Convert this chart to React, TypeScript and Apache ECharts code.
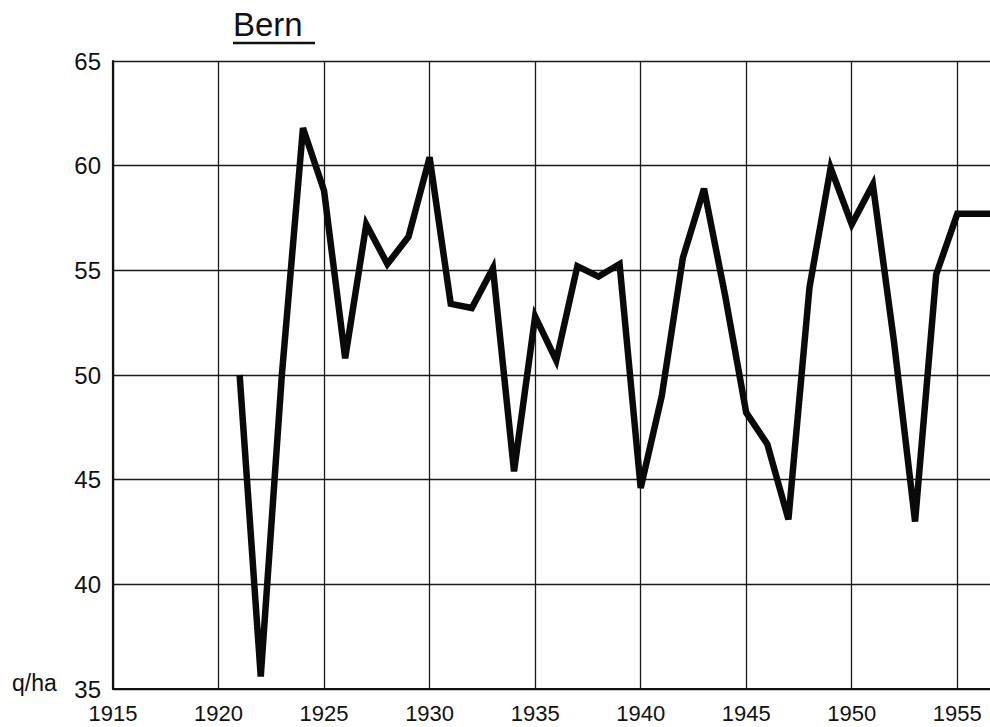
import React, { useEffect, useRef } from "react";
import * as echarts from "echarts";

const title = "Bern";
const unitLabel = "q/ha";
const years = [
  1921, 1922, 1923, 1924, 1925, 1926, 1927, 1928, 1929, 1930,
  1931, 1932, 1933, 1934, 1935, 1936, 1937, 1938, 1939, 1940,
  1941, 1942, 1943, 1944, 1945, 1946, 1947, 1948, 1949, 1950,
  1951, 1952, 1953, 1954, 1955, 1956, 1957,
];
const yields = [
  50.0, 35.6, 50.0, 61.8, 58.8, 50.8, 57.2, 55.3, 56.6, 60.4,
  53.4, 53.2, 55.1, 45.4, 52.8, 50.7, 55.2, 54.7, 55.3, 44.6,
  49.0, 55.6, 58.9, 53.8, 48.2, 46.7, 43.1, 54.2, 59.9, 57.2,
  59.1, 51.6, 43.0, 54.8, 57.7, 57.7, 57.7,
];
const xMin = 1915;
const xMax = 1956.55;
const yMin = 35;
const yMax = 65;
const step = 5;

export default function App() {
  const ref = useRef<HTMLDivElement>(null);
  useEffect(() => {
    if (!ref.current) return;
    const chart = echarts.init(ref.current, null, { renderer: "svg" });
    const font = "'Liberation Sans', Arial, sans-serif";
    chart.setOption({
      animation: false,
      backgroundColor: "#ffffff",
      grid: { left: 113, top: 61, right: 0, bottom: 38, containLabel: false },
      xAxis: {
        type: "value",
        min: xMin,
        max: xMax,
        interval: step,
        axisLine: { show: true, lineStyle: { color: "#111", width: 2.2 } },
        axisTick: { show: false },
        splitLine: { show: true, showMaxLine: false, lineStyle: { color: "#1a1a1a", width: 1.3 } },
        axisLabel: {
          margin: 13,
          fontFamily: font,
          fontSize: 22,
          color: "#111",
          showMaxLabel: false,
          formatter: (v: number) => (v % step === 0 ? String(v) : ""),
        },
      },
      yAxis: {
        type: "value",
        min: yMin,
        max: yMax,
        interval: step,
        axisLine: { show: true, lineStyle: { color: "#111", width: 2.2 } },
        axisTick: { show: false },
        splitLine: { show: true, lineStyle: { color: "#1a1a1a", width: 1.3 } },
        axisLabel: {
          margin: 12,
          fontFamily: font,
          fontSize: 24,
          color: "#111",
        },
      },
      series: [
        {
          type: "line",
          data: years.map((y, i) => [y, yields[i]]),
          symbol: "none",
          clip: true,
          lineStyle: { color: "#0a0a0a", width: 6.5, join: "miter", cap: "butt" },
        },
      ],
      graphic: [
        {
          type: "text",
          left: 233,
          top: 8,
          style: { text: title, fontFamily: font, fontSize: 33, fill: "#111" },
        },
        {
          type: "line",
          shape: { x1: 233, y1: 43, x2: 315, y2: 43 },
          style: { stroke: "#111", lineWidth: 2.5 },
        },
        {
          type: "text",
          left: 12,
          top: 671,
          style: { text: unitLabel, fontFamily: font, fontSize: 23, fill: "#111" },
        },
      ],
    });
    return () => chart.dispose();
  }, []);
  return (
    <div
      ref={ref}
      style={{ position: "fixed", left: 0, top: 0, width: 990, height: 727 }}
    />
  );
}
